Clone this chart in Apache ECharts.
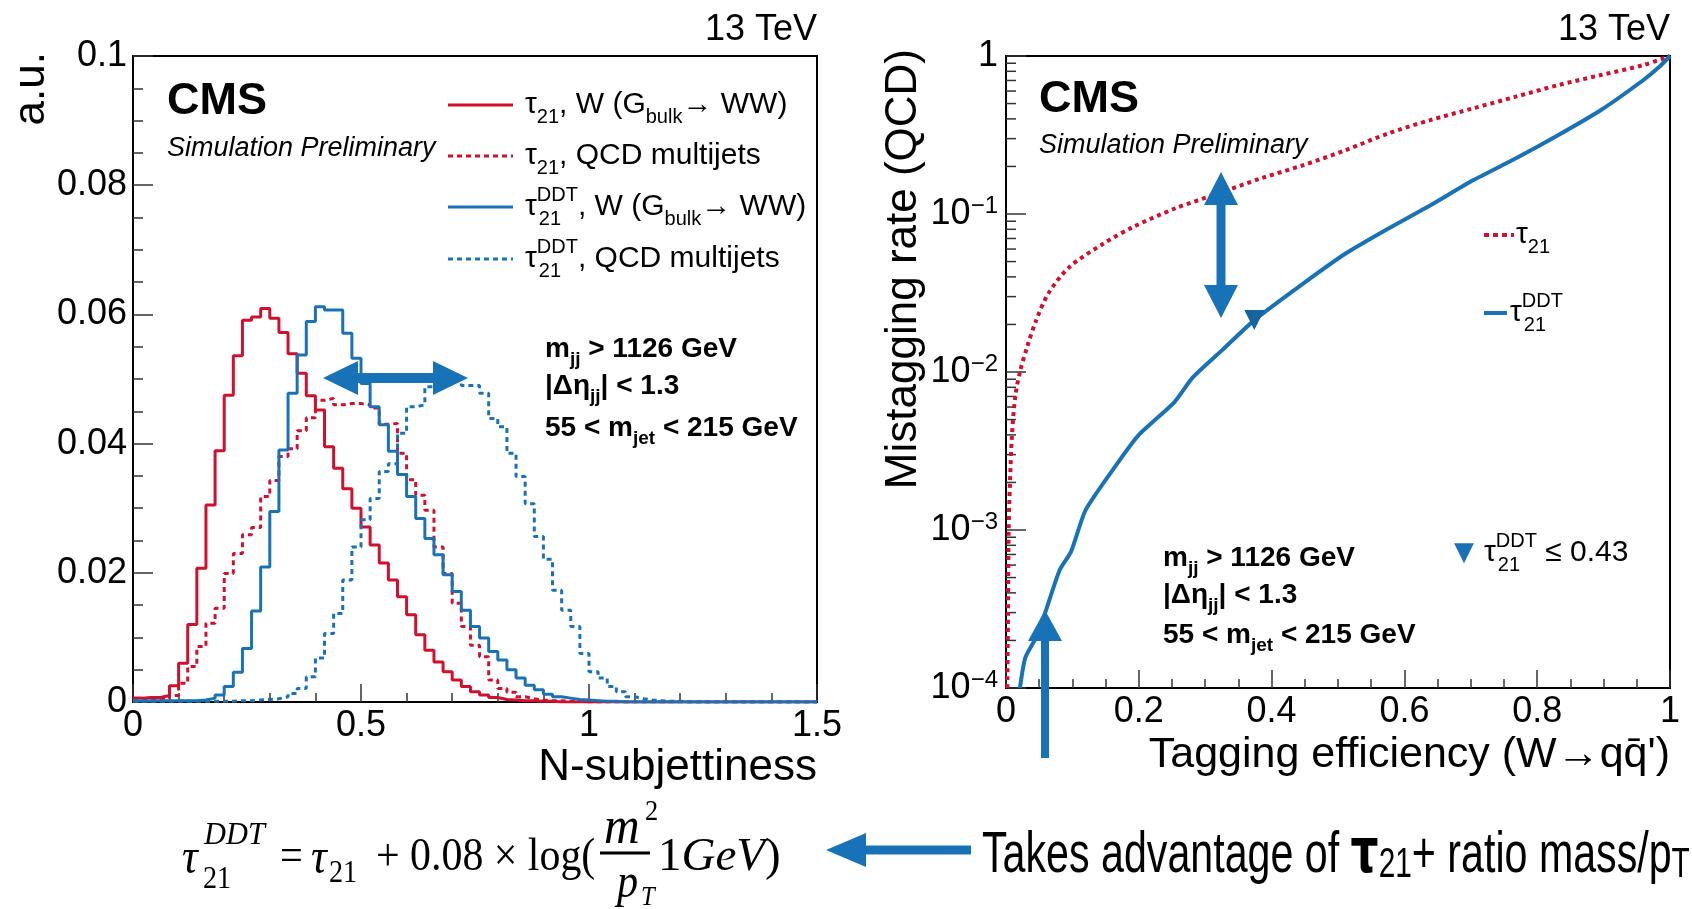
<!DOCTYPE html>
<html>
<head>
<meta charset="utf-8">
<script src="https://cdn.jsdelivr.net/npm/echarts@6/dist/echarts.min.js"></script>
<style>
  html, body { margin: 0; padding: 0; background: #fff; }
  #chart { width: 1692px; height: 909px; }
</style>
</head>
<body>
<div id="chart"></div>
<script>
// N-subjettiness histograms, 75 bins of 0.02 from 0 to 1.5
var binWidth = 0.02;
var tau21W = [0.0006, 0.0007, 0.0007, 0.0010, 0.0025, 0.0060, 0.0120, 0.0207, 0.0305, 0.0389,
  0.0475, 0.0536, 0.0591, 0.0596, 0.0609, 0.0594, 0.0572, 0.0539, 0.0509, 0.0474,
  0.0452, 0.0395, 0.0362, 0.0330, 0.0300, 0.0271, 0.0243, 0.0215, 0.0189, 0.0163,
  0.0135, 0.0104, 0.0080, 0.0062, 0.0047, 0.0034, 0.0024, 0.0016, 0.0011, 0.0007,
  0.0004, 0.0003, 0.0002, 0.0002, 0.0001, 0.0001, 0, 0, 0, 0,
  0, 0, 0, 0, 0, 0, 0, 0, 0, 0,
  0, 0, 0, 0, 0, 0, 0, 0, 0, 0,
  0, 0, 0, 0, 0];
var tau21QCD = [0.0003, 0.0003, 0.0004, 0.0005, 0.0010, 0.0029, 0.0055, 0.0086, 0.0122, 0.0145,
  0.0199, 0.0230, 0.0259, 0.0270, 0.0318, 0.0343, 0.0380, 0.0392, 0.0420, 0.0440,
  0.0467, 0.0470, 0.0460, 0.0462, 0.0462, 0.0460, 0.0455, 0.0430, 0.0431, 0.0385,
  0.0344, 0.0320, 0.0297, 0.0240, 0.0199, 0.0153, 0.0117, 0.0088, 0.0070, 0.0034,
  0.0021, 0.0015, 0.0008, 0.0005, 0.0003, 0.0002, 0.0002, 0.0001, 0.0001, 0,
  0, 0, 0, 0, 0, 0, 0, 0, 0, 0,
  0, 0, 0, 0, 0, 0, 0, 0, 0, 0,
  0, 0, 0, 0, 0];
var ddtW = [0.0002, 0.0002, 0.0002, 0.0002, 0.0002, 0.0002, 0.0002, 0.0003, 0.0006, 0.0011,
  0.0024, 0.0046, 0.0083, 0.0141, 0.0209, 0.0295, 0.0390, 0.0478, 0.0537, 0.0589,
  0.0612, 0.0607, 0.0607, 0.0571, 0.0532, 0.0493, 0.0457, 0.0429, 0.0388, 0.0352,
  0.0318, 0.0284, 0.0253, 0.0228, 0.0197, 0.0171, 0.0142, 0.0117, 0.0099, 0.0078,
  0.0065, 0.0050, 0.0037, 0.0026, 0.0019, 0.0012, 0.0008, 0.0006, 0.0004, 0.0003,
  0.0002, 0.0001, 0.0001, 0, 0, 0, 0, 0, 0, 0,
  0, 0, 0, 0, 0, 0, 0, 0, 0, 0,
  0, 0, 0, 0, 0];
var ddtQCD = [0.0001, 0.0001, 0.0001, 0.0001, 0.0001, 0.0001, 0.0001, 0.0001, 0.0001, 0.0001,
  0.0001, 0.0002, 0.0002, 0.0003, 0.0004, 0.0005, 0.0008, 0.0013, 0.0021, 0.0039,
  0.0068, 0.0106, 0.0137, 0.0189, 0.0240, 0.0282, 0.0315, 0.0357, 0.0369, 0.0416,
  0.0457, 0.0460, 0.0488, 0.0490, 0.0495, 0.0500, 0.0490, 0.0490, 0.0478, 0.0439,
  0.0426, 0.0385, 0.0349, 0.0307, 0.0256, 0.0221, 0.0173, 0.0142, 0.0117, 0.0075,
  0.0047, 0.0037, 0.0024, 0.0016, 0.0008, 0.0005, 0.0003, 0.0002, 0.0001, 0.0001,
  0, 0, 0, 0, 0, 0, 0, 0, 0, 0,
  0, 0, 0, 0, 0];

// ROC curves: [tagging efficiency, mistag rate]
var rocTau21 = [[0.002, 0.0001], [0.003, 0.0003], [0.004, 0.001], [0.006, 0.002], [0.009, 0.004],
  [0.014, 0.007], [0.021, 0.01], [0.032, 0.0145], [0.045, 0.021], [0.064, 0.0315], [0.096, 0.0464],
  [0.147, 0.065], [0.192, 0.083], [0.256, 0.109], [0.32, 0.135], [0.384, 0.168], [0.448, 0.204],
  [0.512, 0.254], [0.576, 0.324], [0.64, 0.394], [0.704, 0.467], [0.768, 0.553], [0.832, 0.655],
  [0.896, 0.758], [0.96, 0.877], [1.0, 1.0]];
var rocDDT = [[0.021, 0.0001], [0.029, 0.000155], [0.047, 0.000215], [0.059, 0.0003], [0.081, 0.00056],
  [0.098, 0.00073], [0.12, 0.00134], [0.168, 0.00265], [0.2, 0.004], [0.253, 0.0064], [0.281, 0.0092],
  [0.326, 0.0138], [0.374, 0.0213], [0.448, 0.0364], [0.512, 0.0564], [0.576, 0.081], [0.64, 0.114],
  [0.704, 0.164], [0.768, 0.225], [0.832, 0.316], [0.896, 0.455], [0.96, 0.705], [0.984, 0.855], [1.0, 1.0]];
var workingPoint = [[0.374, 0.0213]];

var xTicksLeft = [0, 1.5];
var yTicksLeft = [0, 0.1];
var yTicksRight = [0.0001, 1];

var RED = '#d0102c';
var BLUE = '#1a72b6';
var ARROW = '#1872b8';
var SANS = 'Liberation Sans, Arial, sans-serif';
var SERIF = 'Liberation Serif, Times New Roman, serif';

var histData = function (vals) {
  var d = vals.map(function (v, i) { return [+(i * binWidth).toFixed(2), v]; });
  d.push([xTicksLeft[1], vals[vals.length - 1]]);
  return d;
};

var logMinor = [];
for (var e = -4; e < 0; e++) {
  for (var k = 2; k <= 9; k++) {
    logMinor.push([0, k * Math.pow(10, e)]);
  }
}

var tickStyle = { color: '#333', width: 1.5 };
var axisLineStyle = { show: true, onZero: false, lineStyle: { color: '#000', width: 2 } };
var labelStyle = { color: '#000', fontSize: 36, fontFamily: SANS };

var txt = function (x, y, text, size, opts) {
  opts = opts || {};
  return {
    type: 'text', x: x, y: y, rotation: opts.rotation || 0,
    scaleX: opts.scaleX || 1, z: 50,
    style: {
      text: text, fill: opts.color || '#000', fontSize: size,
      fontFamily: opts.family || SANS, fontWeight: opts.weight || 'normal',
      fontStyle: opts.italic ? 'italic' : 'normal',
      textAlign: opts.align || 'left', textVerticalAlign: 'middle',
      rich: opts.rich
    }
  };
};

var richSmall = function (size, weight) {
  return {
    t: { fontSize: size, lineHeight: Math.round(size * 1.45), verticalAlign: 'middle', fontFamily: SANS, fontWeight: weight },
    sub: { fontSize: Math.round(size * 0.66), lineHeight: Math.round(size * 0.66), verticalAlign: 'bottom', fontFamily: SANS, fontWeight: weight },
    sup: { fontSize: Math.round(size * 0.66), lineHeight: Math.round(size * 0.66), verticalAlign: 'top', fontFamily: SANS, fontWeight: weight }
  };
};

// tau with DDT superscript and 21 subscript stacked
var tauDDT = function (x, y, rest, size) {
  return [
    txt(x, y, '{t|τ}{sup|DDT}' + rest, size, { rich: richSmall(size) }),
    txt(x + size * 0.46, y + size * 0.42, '21', Math.round(size * 0.66))
  ];
};

var legendLine = function (x1, x2, y, color, dashed, width) {
  return {
    type: 'line', z: 50,
    shape: { x1: x1, y1: y, x2: x2, y2: y },
    style: { stroke: color, lineWidth: width || 3, lineDash: dashed ? [5, 4] : null }
  };
};

var arrow = function (points) {
  return { type: 'polygon', z: 60, shape: { points: points }, style: { fill: ARROW } };
};

var cutsBlock = function (x, y0, gap1, gap2) {
  var r = {
    b: { fontSize: 28, fontWeight: 'bold', fontFamily: SANS, lineHeight: 40, verticalAlign: 'middle' },
    s: { fontSize: 19, fontWeight: 'bold', fontFamily: SANS, lineHeight: 19, verticalAlign: 'bottom' }
  };
  return [
    txt(x, y0, '{b|m}{s|jj}{b| > 1126 GeV}', 28, { rich: r }),
    txt(x, y0 + gap1, '{b||Δη}{s|jj}{b|| < 1.3}', 28, { rich: r }),
    txt(x, y0 + gap1 + gap2, '{b|55 < m}{s|jet}{b| < 215 GeV}', 28, { rich: r })
  ];
};

var graphics = [];
// left panel texts
graphics.push(txt(817, 30, '13 TeV', 36, { align: 'right' }));
graphics.push(txt(32, 52, 'a.u.', 44, { align: 'right', rotation: Math.PI / 2 }));
graphics.push(txt(817, 768, 'N-subjettiness', 44, { align: 'right' }));
graphics.push(txt(167, 102, 'CMS', 45, { weight: 'bold' }));
graphics.push(txt(167, 148, 'Simulation Preliminary', 27, { italic: true }));
graphics.push(legendLine(448, 513, 105, RED, false));
graphics.push(legendLine(448, 513, 156, RED, true));
graphics.push(legendLine(448, 513, 207, BLUE, false));
graphics.push(legendLine(448, 513, 259, BLUE, true));
graphics.push(txt(525, 105, '{t|τ}{sub|21}{t|, W (G}{sub|bulk}{t|→ WW)}', 30, { rich: richSmall(30) }));
graphics.push(txt(525, 156, '{t|τ}{sub|21}{t|, QCD multijets}', 30, { rich: richSmall(30) }));
graphics = graphics.concat(tauDDT(525, 207, '{t|, W (G}{sub|bulk}{t|→ WW)}', 30));
graphics = graphics.concat(tauDDT(525, 259, '{t|, QCD multijets}', 30));
graphics = graphics.concat(cutsBlock(545, 349, 37, 42));
graphics.push(arrow([[323, 378], [358, 361], [358, 373], [433, 373], [433, 361], [468, 378],
  [433, 395], [433, 383], [358, 383], [358, 395]]));

// right panel texts
graphics.push(txt(1670, 30, '13 TeV', 36, { align: 'right' }));
graphics.push(txt(904, 49, 'Mistagging rate (QCD)', 44, { align: 'right', rotation: Math.PI / 2 }));
graphics.push(txt(1670, 755, 'Tagging efficiency (W→qq\u0304\')', 43, { align: 'right' }));
graphics.push(txt(1039, 100, 'CMS', 45, { weight: 'bold' }));
graphics.push(txt(1039, 145, 'Simulation Preliminary', 27, { italic: true }));
graphics.push(legendLine(1484, 1514, 235, RED, true, 4));
graphics.push(txt(1516, 235, '{t|τ}{sub|21}', 30, { rich: richSmall(30) }));
graphics.push(legendLine(1484, 1507, 313, BLUE, false, 4));
graphics = graphics.concat(tauDDT(1510, 313, '', 30));
graphics.push(txt(1464, 553, '▼', 26, { align: 'center', color: BLUE, family: 'DejaVu Sans' }));
graphics = graphics.concat(tauDDT(1484, 553, '{t| ≤ 0.43}', 30));
graphics = graphics.concat(cutsBlock(1163, 558, 37, 40));
graphics.push(arrow([[1221, 172], [1238, 205], [1225.5, 205], [1225.5, 285], [1238, 285], [1221, 318],
  [1204, 285], [1216.5, 285], [1216.5, 205], [1204, 205]]));
graphics.push(arrow([[1045, 610], [1062, 641], [1049, 641], [1049, 758], [1041, 758], [1041, 641], [1028, 641]]));

// formula and note at the bottom
var fs = 0.88;
graphics.push(txt(182, 860, 'τ', 50, { family: SERIF, italic: true, scaleX: fs }));
graphics.push(txt(204, 836, 'DDT', 32, { family: SERIF, italic: true, scaleX: 0.95 }));
graphics.push(txt(203, 880, '21', 32, { family: SERIF, scaleX: fs }));
graphics.push(txt(280, 858, '=', 46, { family: SERIF, scaleX: fs }));
graphics.push(txt(311, 860, 'τ', 50, { family: SERIF, italic: true, scaleX: fs }));
graphics.push(txt(329, 874, '21', 32, { family: SERIF, scaleX: fs }));
graphics.push(txt(376, 858, '+ 0.08 × log(', 46, { family: SERIF, scaleX: 0.91 }));
graphics.push({ type: 'line', z: 50, shape: { x1: 600, y1: 853, x2: 650, y2: 853 }, style: { stroke: '#000', lineWidth: 3 } });
graphics.push(txt(604, 829, 'm', 52, { family: SERIF, italic: true, scaleX: 0.95 }));
graphics.push(txt(645, 812, '2', 30, { family: SERIF, scaleX: fs }));
graphics.push(txt(617, 884, 'p', 48, { family: SERIF, italic: true, scaleX: fs }));
graphics.push(txt(641, 898, 'T', 28, { family: SERIF, italic: true, scaleX: fs }));
graphics.push(txt(658, 858, '{r|1}{i|GeV}{r|)}', 47, {
  rich: {
    r: { fontSize: 47, fontFamily: SERIF },
    i: { fontSize: 47, fontFamily: SERIF, fontStyle: 'italic' }
  }
}));
graphics.push(arrow([[826, 850], [866, 833], [866, 845.5], [971, 845.5], [971, 854.5], [866, 854.5], [866, 867]]));
graphics.push(txt(982, 856, '{a|Takes advantage of }{t|τ}{s|21}{a|+ ratio mass/p}{s|T}', 58, {
  scaleX: 0.71,
  rich: {
    a: { fontSize: 58, fontFamily: SANS, lineHeight: 60, verticalAlign: 'middle' },
    t: { fontSize: 62, fontFamily: 'DejaVu Sans', fontWeight: 'bold', lineHeight: 60, verticalAlign: 'middle' },
    s: { fontSize: 42, fontFamily: SANS, lineHeight: 42, verticalAlign: 'bottom' }
  }
}));

var chart = echarts.init(document.getElementById('chart'), null, { renderer: 'canvas' });
chart.setOption({
  backgroundColor: '#fff',
  animation: false,
  grid: [
    { left: 133, top: 56, width: 684, height: 646, show: true, borderColor: '#000', borderWidth: 2 },
    { left: 1006, top: 56, width: 664, height: 632, show: true, borderColor: '#000', borderWidth: 2 }
  ],
  xAxis: [
    {
      gridIndex: 0, type: 'value', min: xTicksLeft[0], max: xTicksLeft[1], interval: 0.5,
      axisLine: axisLineStyle,
      axisTick: { inside: true, length: 18, lineStyle: tickStyle },
      minorTick: { show: true, splitNumber: 5, length: 9, lineStyle: tickStyle },
      splitLine: { show: false },
      axisLabel: Object.assign({ margin: 6 }, labelStyle)
    },
    {
      gridIndex: 1, type: 'value', min: 0, max: 1, interval: 0.2,
      axisLine: axisLineStyle,
      axisTick: { inside: true, length: 18, lineStyle: tickStyle },
      minorTick: { show: true, splitNumber: 4, length: 9, lineStyle: tickStyle },
      splitLine: { show: false },
      axisLabel: Object.assign({ margin: 6 }, labelStyle)
    }
  ],
  yAxis: [
    {
      gridIndex: 0, type: 'value', min: yTicksLeft[0], max: yTicksLeft[1], interval: 0.02,
      axisLine: axisLineStyle,
      axisTick: { inside: true, length: 20, lineStyle: tickStyle },
      minorTick: { show: true, splitNumber: 4, length: 10, lineStyle: tickStyle },
      splitLine: { show: false },
      axisLabel: Object.assign({ margin: 6 }, labelStyle)
    },
    {
      gridIndex: 1, type: 'log', logBase: 10, min: yTicksRight[0], max: yTicksRight[1],
      axisLine: axisLineStyle,
      axisTick: { inside: true, length: 20, lineStyle: tickStyle },
      splitLine: { show: false },
      axisLabel: Object.assign({
        margin: 8,
        formatter: function (v) {
          var p = Math.round(Math.log10(v));
          if (p === 0) return '1';
          return '{b|10}{s|−' + (-p) + '}';
        },
        rich: {
          b: { fontSize: 36, fontFamily: SANS, color: '#000', lineHeight: 40, verticalAlign: 'middle' },
          s: { fontSize: 24, fontFamily: SANS, color: '#000', lineHeight: 24, verticalAlign: 'top' }
        }
      }, labelStyle)
    }
  ],
  series: [
    { name: 'tau21 W', type: 'line', step: 'end', xAxisIndex: 0, yAxisIndex: 0, symbol: 'none',
      data: histData(tau21W), lineStyle: { color: RED, width: 3 } },
    { name: 'tau21 QCD', type: 'line', step: 'end', xAxisIndex: 0, yAxisIndex: 0, symbol: 'none',
      data: histData(tau21QCD), lineStyle: { color: RED, width: 3, type: [5, 4] } },
    { name: 'DDT W', type: 'line', step: 'end', xAxisIndex: 0, yAxisIndex: 0, symbol: 'none',
      data: histData(ddtW), lineStyle: { color: BLUE, width: 3 } },
    { name: 'DDT QCD', type: 'line', step: 'end', xAxisIndex: 0, yAxisIndex: 0, symbol: 'none',
      data: histData(ddtQCD), lineStyle: { color: BLUE, width: 3, type: [5, 4] } },
    { name: 'roc tau21', type: 'line', xAxisIndex: 1, yAxisIndex: 1, symbol: 'none', smooth: 0.3,
      data: rocTau21, lineStyle: { color: RED, width: 4, type: [4, 4] } },
    { name: 'roc DDT', type: 'line', xAxisIndex: 1, yAxisIndex: 1, symbol: 'none', smooth: 0.2,
      data: rocDDT, lineStyle: { color: BLUE, width: 4 } },
    { name: 'wp', type: 'scatter', xAxisIndex: 1, yAxisIndex: 1, symbol: 'triangle', symbolRotate: 180,
      symbolSize: [20, 20], data: workingPoint, itemStyle: { color: '#16649f', opacity: 1 }, z: 5 },
    { name: 'logMinor', type: 'custom', xAxisIndex: 1, yAxisIndex: 1, data: logMinor, silent: true,
      renderItem: function (params, api) {
        var p = api.coord([api.value(0), api.value(1)]);
        return { type: 'line', shape: { x1: p[0], y1: p[1], x2: p[0] + 10, y2: p[1] }, style: { stroke: '#333', lineWidth: 1.5 } };
      } }
  ],
  graphic: graphics
});
</script>
</body>
</html>
